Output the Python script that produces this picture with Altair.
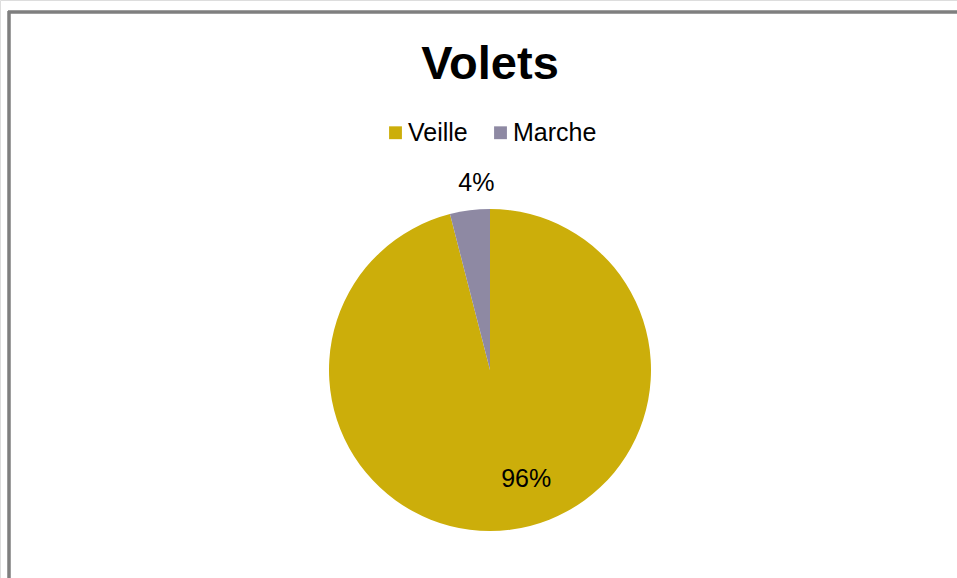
import altair as alt
import pandas as pd

title_text = "Volets"
categories = ["Veille", "Marche"]
values = [96, 4]
labels = ["96%", "4%"]
colors = ["#CCAE0A", "#8E89A3"]

df = pd.DataFrame({"cat": categories, "val": values, "lab": labels})

FONT = "Liberation Sans"
CX, CY = 490, 370

base = alt.Chart(df).transform_calculate(
    ord="indexof(['Veille','Marche'], datum.cat)"
)

theta = alt.Theta("val:Q", stack=True)
order = alt.Order("ord:Q")

pie = base.mark_arc(outerRadius=161).encode(
    theta=theta,
    order=order,
    x=alt.value(CX),
    y=alt.value(CY),
    color=alt.Color(
        "cat:N",
        scale=alt.Scale(domain=categories, range=colors),
        legend=alt.Legend(
            title=None,
            orient="none",
            legendX=383,
            legendY=120,
            direction="horizontal",
            symbolType="square",
            symbolSize=165,
            symbolStrokeWidth=0,
            labelFont=FONT,
            labelFontSize=25,
            labelColor="#000000",
            labelOffset=0,
            columnPadding=20,
        ),
    ),
)

lab_in = base.mark_text(radius=113, dx=22, dy=-3, font=FONT, fontSize=25, color="#000000").encode(
    theta=theta,
    order=order,
    x=alt.value(CX),
    y=alt.value(CY),
    text=alt.condition("datum.cat == 'Veille'", alt.Text("lab:N"), alt.value("")),
)

lab_out = base.mark_text(radius=188, dx=10, font=FONT, fontSize=25, color="#000000").encode(
    theta=theta,
    order=order,
    x=alt.value(CX),
    y=alt.value(CY),
    text=alt.condition("datum.cat == 'Marche'", alt.Text("lab:N"), alt.value("")),
)

title = alt.Chart(pd.DataFrame({"t": [title_text]})).mark_text(
    font=FONT, fontSize=47, fontWeight="bold", color="#000000",
    align="center", baseline="alphabetic",
).encode(text="t:N", x=alt.value(490), y=alt.value(79))

border_left = alt.Chart(df).mark_rule(color="#7F7F7F", strokeWidth=3).encode(
    x=alt.value(9), y=alt.value(11), y2=alt.value(578)
)
border_top = alt.Chart(df).mark_rule(color="#7F7F7F", strokeWidth=3).encode(
    x=alt.value(8), x2=alt.value(957), y=alt.value(12)
)

chart = alt.layer(border_left, border_top, pie, lab_in, lab_out, title).properties(
    width=957,
    height=578,
    padding=0,
    autosize=alt.AutoSizeParams(type="none"),
).configure_view(stroke=None).configure(background="#FFFFFF")

chart.save("out.html", embed_options={"renderer": "svg", "actions": False})
